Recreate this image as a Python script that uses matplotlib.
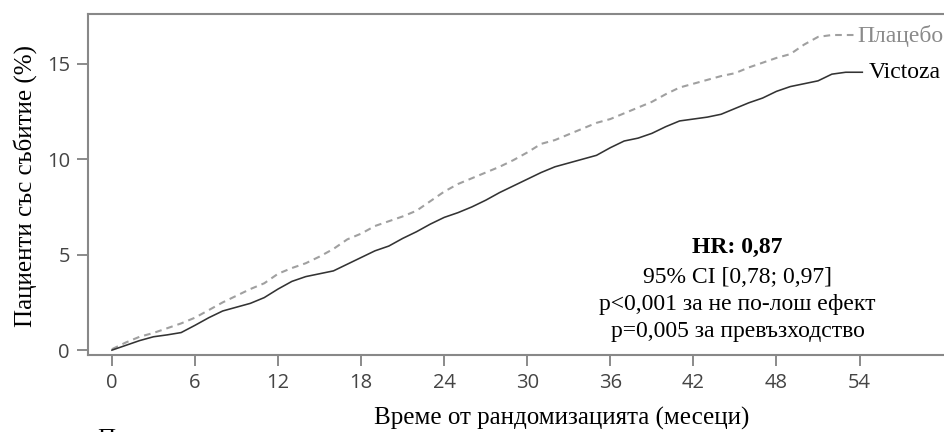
import numpy as np
import matplotlib.pyplot as plt

# Données (mois, % patients avec événement)
months = list(range(0, 54))
victoza = [0.0, 0.25, 0.5, 0.7, 0.8, 0.92, 1.3, 1.7, 2.05, 2.25,
           2.45, 2.75, 3.2, 3.6, 3.85, 4.0, 4.15, 4.5, 4.85, 5.2,
           5.45, 5.85, 6.2, 6.6, 6.95, 7.2, 7.5, 7.85, 8.25, 8.6,
           8.95, 9.3, 9.6, 9.8, 10.0, 10.2, 10.6, 10.95, 11.1, 11.35,
           11.7, 12.0, 12.1, 12.2, 12.35, 12.65, 12.95, 13.2, 13.55, 13.8,
           13.95, 14.1, 14.45, 14.55]
placebo = [0.05, 0.4, 0.7, 0.9, 1.15, 1.4, 1.7, 2.1, 2.5, 2.85,
           3.2, 3.5, 4.0, 4.3, 4.55, 4.9, 5.3, 5.8, 6.1, 6.5,
           6.75, 7.0, 7.3, 7.8, 8.3, 8.7, 9.0, 9.3, 9.6, 9.95,
           10.35, 10.8, 11.0, 11.3, 11.6, 11.9, 12.1, 12.4, 12.7, 13.0,
           13.4, 13.75, 13.95, 14.15, 14.35, 14.5, 14.8, 15.05, 15.3, 15.5,
           16.0, 16.4, 16.5, 16.5]
victoza_end = 54.2
placebo_end = 53.7

xticks = [0, 6, 12, 18, 24, 30, 36, 42, 48, 54]
yticks = [0, 5, 10, 15]

serif = 'Liberation Serif'

fig = plt.figure(figsize=(9.44, 4.32), dpi=100)
ax = fig.add_axes([0.0932, 0.178, 0.9068, 0.7896])

ax.plot(months + [placebo_end], placebo + placebo[-1:], color='#a0a0a0',
        linewidth=1.5, dashes=(3.2, 2.4))
ax.plot(months + [victoza_end], victoza + victoza[-1:], color='#333333',
        linewidth=1.15)

ax.text(placebo_end + 0.15, 16.45, 'Плацебо', family=serif, fontsize=17,
        color='#8a8a8a', va='center', ha='left')
ax.text(victoza_end + 0.45, victoza[-1], 'Victoza', family=serif, fontsize=17,
        color='black', va='center', ha='left')

ax.set_xlim(-1.73, 60.1)
ax.set_ylim(-0.26, 17.6)
ax.set_xticks(xticks)
ax.set_yticks(yticks)
ax.tick_params(direction='out', length=8, width=1.2, color='#777777',
               labelcolor='#444444', labelsize=14.5)
ax.tick_params(axis='x', pad=5)
ax.tick_params(axis='y', pad=5)
for lab in ax.get_xticklabels() + ax.get_yticklabels():
    lab.set_family('Open Sans')

for side in ['left', 'bottom', 'top']:
    ax.spines[side].set_color('#888888')
    ax.spines[side].set_linewidth(1.5)
ax.spines['right'].set_visible(False)

fig.text(562 / 944, 1 - 418 / 432, 'Време от рандомизацията (месеци)',
         family=serif, fontsize=18, ha='center', va='center')
fig.text(25 / 944, 1 - 186 / 432, 'Пациенти със събитие (%)',
         family=serif, fontsize=18, ha='center', va='center', rotation=90)

# Encadré statistique
ax.text(45.2, 5.39, 'HR: 0,87', family=serif, fontsize=17, weight='bold',
        ha='center', va='center')
ax.text(45.2, 3.82, '95% CI [0,78; 0,97]', family=serif, fontsize=17,
        ha='center', va='center')
ax.text(45.2, 2.41, 'p<0,001 за не по-лош ефект', family=serif, fontsize=17,
        ha='center', va='center')
ax.text(45.2, 0.99, 'p=0,005 за превъзходство', family=serif, fontsize=17,
        ha='center', va='center')

# début de la ligne suivante, coupée par le bord (comme sur l'original)
fig.text(97 / 944, 0.006, 'П', family=serif, fontsize=18, va='top',
         ha='left')

fig.savefig('out.png', dpi=100)
